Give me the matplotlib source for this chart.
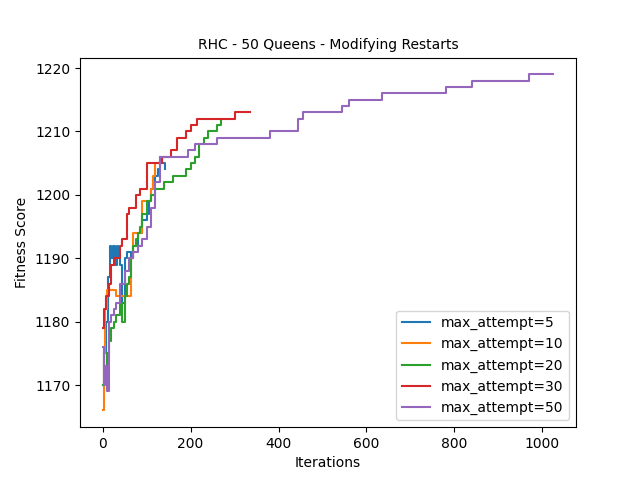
import matplotlib.pyplot as plt

it5 = [0, 3, 8, 12, 16, 20, 24, 28, 32, 36, 40, 45, 50, 55, 60, 65, 70, 80, 90, 100, 105, 110, 115, 120, 125, 130, 135, 141]
f5 = [1170, 1175, 1180, 1187, 1192, 1190, 1192, 1189, 1192, 1190, 1189, 1183, 1190, 1191, 1191, 1190, 1192, 1194, 1196, 1197, 1199, 1201, 1202, 1203, 1204, 1206, 1205, 1204]
it10 = [0, 3, 6, 10, 15, 30, 40, 50, 60, 65, 70, 80, 90, 100, 110, 115, 120, 125, 131]
f10 = [1166, 1175, 1182, 1185, 1185, 1184, 1184, 1184, 1184, 1190, 1194, 1194, 1199, 1199, 1201, 1203, 1205, 1205, 1205]
it20 = [0, 5, 10, 15, 20, 25, 30, 40, 45, 50, 55, 60, 65, 70, 75, 80, 85, 90, 100, 110, 120, 130, 140, 150, 160, 190, 200, 210, 220, 230, 240, 260, 270]
f20 = [1170, 1172, 1175, 1177, 1179, 1180, 1181, 1183, 1180, 1184, 1186, 1187, 1190, 1192, 1193, 1194, 1195, 1197, 1199, 1200, 1201, 1201, 1202, 1202, 1203, 1204, 1205, 1206, 1208, 1209, 1210, 1211, 1212]
it30 = [0, 3, 8, 15, 20, 25, 35, 40, 45, 55, 60, 70, 75, 85, 100, 130, 135, 155, 170, 190, 200, 215, 300, 335]
f30 = [1179, 1182, 1184, 1186, 1189, 1190, 1190, 1192, 1193, 1197, 1198, 1198, 1200, 1201, 1205, 1205, 1206, 1207, 1209, 1210, 1211, 1212, 1213, 1213]
it50 = [0, 3, 6, 10, 15, 20, 25, 30, 40, 50, 60, 70, 80, 90, 100, 110, 120, 130, 190, 195, 210, 260, 380, 445, 455, 545, 560, 635, 780, 840, 970, 1025]
f50 = [1176, 1170, 1173, 1169, 1180, 1181, 1182, 1183, 1186, 1188, 1190, 1191, 1192, 1193, 1195, 1198, 1202, 1206, 1206, 1207, 1208, 1209, 1210, 1212, 1213, 1214, 1215, 1216, 1217, 1218, 1219, 1219]

labels = ['max_attempt=5', 'max_attempt=10', 'max_attempt=20', 'max_attempt=30', 'max_attempt=50']
series = [(it5, f5), (it10, f10), (it20, f20), (it30, f30), (it50, f50)]

fig, ax = plt.subplots(figsize=(6.4, 4.8), dpi=100)
for (x, y), lab in zip(series, labels):
    ax.plot(x, y, label=lab, drawstyle='steps-post')
ax.set_title('RHC - 50 Queens - Modifying Restarts', fontsize=10)
ax.set_xlabel('Iterations')
ax.set_ylabel('Fitness Score')
ax.legend(loc='lower right')
fig.savefig('out.png')
